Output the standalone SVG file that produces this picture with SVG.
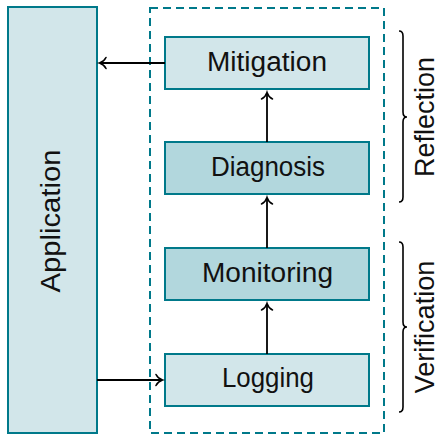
<svg xmlns="http://www.w3.org/2000/svg" width="441" height="435" viewBox="0 0 441 435">
<style>
.box{stroke:#00798a;stroke-width:2}
.light{fill:#d2e6ea}
.dark{fill:#b2d7dd}
.lbl{font-family:"Liberation Sans",Arial,sans-serif;font-size:27px;fill:#111;text-anchor:middle}
.conn{stroke:#000;stroke-width:1.8;fill:none}
.brace{stroke:#000;stroke-width:1.6;fill:none}
</style>
<defs>
<marker id="arr" markerUnits="userSpaceOnUse" markerWidth="14" markerHeight="14" viewBox="-8 -7 10 14" refX="0" refY="0" orient="auto">
<path d="M-6,-5.5 C-4.5,-2.5 -1.5,-0.6 0.5,0 C-1.5,0.6 -4.5,2.5 -6,5.5" stroke="#000" stroke-width="1.6" fill="none" stroke-linecap="round"/>
</marker>
</defs>
<g id="application">
<rect class="box light" x="8" y="7" width="89" height="426"/>
<text class="lbl" transform="translate(60,221) rotate(-90)" font-size="28" textLength="143" lengthAdjust="spacingAndGlyphs">Application</text>
</g>
<g id="group-box">
<rect x="150" y="8" width="234" height="425" fill="none" stroke="#00798a" stroke-width="2" stroke-dasharray="8 5"/>
</g>
<g id="mitigation">
<rect class="box light" x="165" y="37" width="204" height="52"/>
<text class="lbl" x="267" y="70.5" textLength="120" lengthAdjust="spacingAndGlyphs">Mitigation</text>
</g>
<g id="diagnosis">
<rect class="box dark" x="165" y="142" width="204" height="52"/>
<text class="lbl" x="268" y="175.5" textLength="114" lengthAdjust="spacingAndGlyphs">Diagnosis</text>
</g>
<g id="monitoring">
<rect class="box dark" x="165" y="248" width="204" height="52"/>
<text class="lbl" x="267.5" y="281.5" textLength="131" lengthAdjust="spacingAndGlyphs">Monitoring</text>
</g>
<g id="logging">
<rect class="box light" x="165" y="354" width="204" height="52"/>
<text class="lbl" x="268" y="387" textLength="92" lengthAdjust="spacingAndGlyphs">Logging</text>
</g>
<g id="connectors">
<line class="conn" x1="165" y1="63" x2="100" y2="63" marker-end="url(#arr)"/>
<line class="conn" x1="97" y1="380" x2="162" y2="380" marker-end="url(#arr)"/>
<line class="conn" x1="267" y1="142" x2="267" y2="93" marker-end="url(#arr)"/>
<line class="conn" x1="267" y1="248" x2="267" y2="198" marker-end="url(#arr)"/>
<line class="conn" x1="267" y1="354" x2="267" y2="304" marker-end="url(#arr)"/>
</g>
<g id="reflection">
<path class="brace" d="M399,31 Q403,31 403,36 V112 Q403,117 407,117 Q403,117 403,122 V197 Q403,202 399,202"/>
<text class="lbl" transform="translate(434,117) rotate(-90)">Reflection</text>
</g>
<g id="verification">
<path class="brace" d="M399,242 Q403,242 403,247 V322 Q403,327 407,327 Q403,327 403,332 V407 Q403,412 399,412"/>
<text class="lbl" transform="translate(434,327) rotate(-90)" textLength="133" lengthAdjust="spacingAndGlyphs">Verification</text>
</g>
</svg>
